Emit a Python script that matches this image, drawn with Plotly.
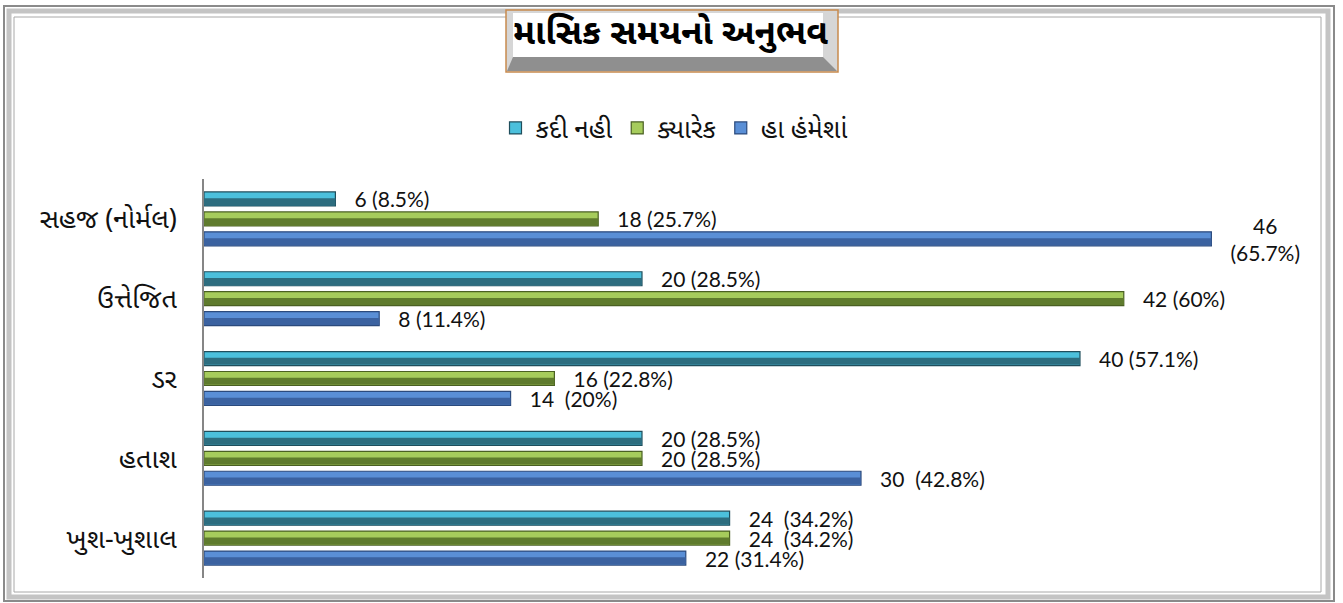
import plotly.graph_objects as go

# ---- data ----
categories = ["સહજ (નોર્મલ)", "ઉત્તેજિત", "ડર", "હતાશ", "ખુશ-ખુશાલ"]
series_names = ["કદી નહી", "ક્યારેક", "હા હંમેશાં"]
never_vals = [6, 20, 40, 20, 24]
sometimes_vals = [18, 42, 16, 20, 24]
always_vals = [46, 8, 14, 30, 22]
never_labels = ["6 (8.5%)", "20 (28.5%)", "40 (57.1%)", "20 (28.5%)", "24  (34.2%)"]
sometimes_labels = ["18 (25.7%)", "42 (60%)", "16 (22.8%)", "20 (28.5%)", "24  (34.2%)"]
always_labels = ["46<br>(65.7%)", "8 (11.4%)", "14  (20%)", "30  (42.8%)", "22 (31.4%)"]
title_text = "માસિક સમયનો અનુભવ"

# ---- style ----
W, H = 1343, 603
L, R, T, B = 204, 1320, 179, 578
light = ["#4cc0dc", "#a6cc5c", "#5a8fd6"]
dark = ["#2d6d7f", "#5f7b2d", "#3b62a0"]
edge = ["#1f4e5c", "#4a6022", "#2b4a7c"]
guj = "Noto Sans Gujarati, Lohit Gujarati, Noto Sans, DejaVu Sans, sans-serif"
num_font = "Lato, Open Sans, sans-serif"

bar_w = 0.175
pitch = 0.25
offsets = [-pitch - bar_w / 2, -bar_w / 2, pitch - bar_w / 2]

def px(x):
    return (x - L) / (R - L)

def py(y):
    return (B - y) / (B - T)

def pad(s):
    return "<br>".join("\u00a0\u00a0\u00a0" + part for part in s.split("<br>"))

fig = go.Figure()
all_vals = [never_vals, sometimes_vals, always_vals]
all_labels = [never_labels, sometimes_labels, always_labels]
for i in range(3):
    fig.add_trace(go.Bar(
        y=categories, x=all_vals[i], orientation="h", name=series_names[i],
        width=bar_w, offset=offsets[i],
        marker=dict(color=light[i], line=dict(color=edge[i], width=1.2)),
        text=[pad(s) for s in all_labels[i]], textposition="outside",
        textfont=dict(family=num_font, size=21, color="#111111"),
        cliponaxis=False, constraintext="none", hoverinfo="x+y",
    ))
for i in range(3):
    fig.add_trace(go.Bar(
        y=categories, x=all_vals[i], orientation="h", showlegend=False,
        width=bar_w * 0.5, offset=offsets[i] + bar_w * 0.45,
        marker=dict(color=dark[i], line=dict(width=0)),
        hoverinfo="skip",
    ))

shapes = []
# outer frame
shapes.append(dict(type="rect", xref="paper", yref="paper",
                   x0=px(4), x1=px(1334), y0=py(601), y1=py(6),
                   line=dict(color="#8a8a8a", width=2), fillcolor="rgba(0,0,0,0)", layer="below"))
shapes.append(dict(type="rect", xref="paper", yref="paper",
                   x0=px(9), x1=px(1328), y0=py(597), y1=py(11),
                   line=dict(color="#c4c4c4", width=5), fillcolor="rgba(0,0,0,0)", layer="below"))
shapes.append(dict(type="rect", xref="paper", yref="paper",
                   x0=px(14), x1=px(1321), y0=py(592), y1=py(17),
                   line=dict(color="#a8a8a8", width=1), fillcolor="white", layer="below"))
# title bevel box
shapes.append(dict(type="rect", xref="paper", yref="paper",
                   x0=px(506), x1=px(838), y0=py(72), y1=py(10),
                   line=dict(color="#c88a4e", width=1.5), fillcolor="#d6d6d6"))
shapes.append(dict(type="path", xref="paper", yref="paper",
                   path=f"M {px(507)},{py(71)} L {px(837)},{py(71)} L {px(823)},{py(57)} L {px(513)},{py(57)} Z",
                   line=dict(width=0), fillcolor="#8f8f8f"))
shapes.append(dict(type="rect", xref="paper", yref="paper",
                   x0=px(513), x1=px(823), y0=py(57), y1=py(13),
                   line=dict(width=0), fillcolor="white"))

fig.update_layout(
    width=W, height=H,
    margin=dict(l=L, r=W - R, t=T, b=H - B, pad=0),
    paper_bgcolor="white", plot_bgcolor="white",
    barmode="overlay",
    showlegend=True,
    legend=dict(orientation="h", x=px(674), xanchor="center", y=py(128), yanchor="middle",
                font=dict(family=guj, size=26, color="#111111"), itemwidth=30,
                bgcolor="rgba(0,0,0,0)", traceorder="normal"),
    xaxis=dict(range=[0, 50.96], showgrid=False, zeroline=False, showticklabels=False,
               showline=False, ticks=""),
    yaxis=dict(autorange="reversed", showgrid=False, zeroline=False, showline=True,
               linecolor="#868686", linewidth=1.5, ticks="", ticklabelstandoff=20,
               tickfont=dict(family=guj, size=27, color="#111111")),
    shapes=shapes,
    annotations=[dict(text=f"<b>{title_text}</b>", xref="paper", yref="paper",
                      x=px(670), y=py(35), xanchor="center", yanchor="middle",
                      showarrow=False, font=dict(family=guj, size=35, color="#000000"))],
)

fig.write_html("out.html", config={"displayModeBar": False},
               post_script="document.body.style.margin='0';document.body.style.overflow='hidden';")
